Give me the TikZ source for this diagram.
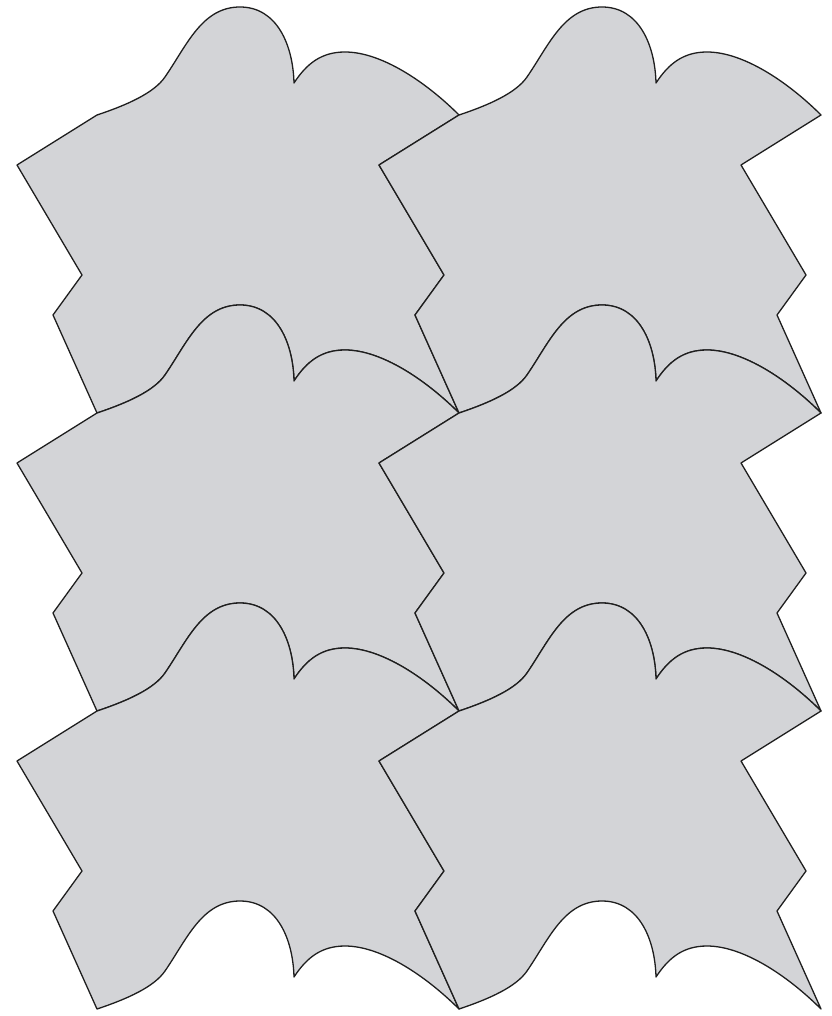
\documentclass[tikz,border=0pt]{standalone}
\usepackage{tikz}
\definecolor{tilegray}{RGB}{211,212,215}
\definecolor{edgeink}{RGB}{30,30,30}
\tikzset{
  tile/.style={fill=tilegray, draw=edgeink, line width=1.3pt, line join=round},
}
\begin{document}
\begin{tikzpicture}[x=1pt,y=-1pt]
\useasboundingbox (0,0) rectangle (831,1016);
\foreach \i in {0,1}{
  \foreach \j in {0,1,2}{
    \begin{scope}[shift={(97+362*\i,115+298*\j)}]
      \draw[tile]
        (0,0) .. controls (30,-10) and (57,-22) .. (68,-38)
        .. controls (90,-70) and (105,-108) .. (143,-108)
        .. controls (180,-108) and (196,-70) .. (197,-32)
        .. controls (210,-52) and (225,-63) .. (248,-63)
        .. controls (285,-63) and (330,-32) .. (362,0)
        -- (282,50) -- (347,160) -- (318,200) -- (362,298)
        .. controls (330,266) and (285,235) .. (248,235)
        .. controls (225,235) and (210,246) .. (197,266)
        .. controls (196,228) and (180,190) .. (143,190)
        .. controls (105,190) and (90,228) .. (68,260)
        .. controls (57,276) and (30,288) .. (0,298)
        -- (-44,200) -- (-15,160) -- (-80,50) -- cycle;
    \end{scope}
  }
}
\end{tikzpicture}
\end{document}
